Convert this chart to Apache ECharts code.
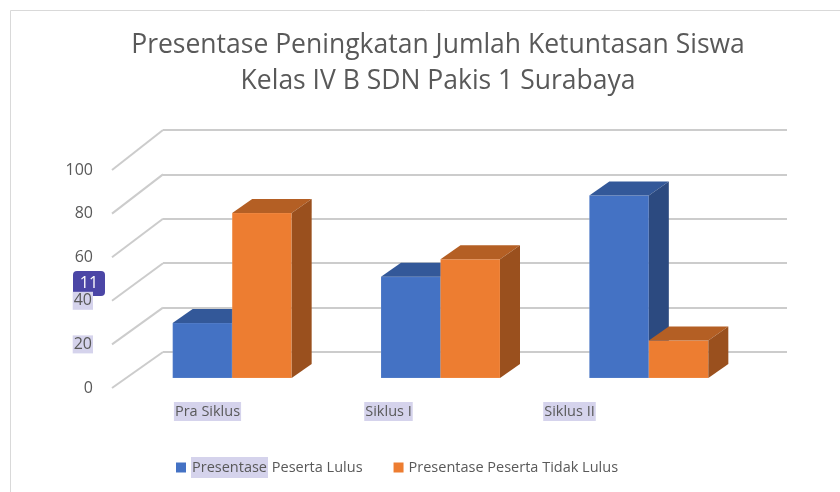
<!DOCTYPE html>
<html>
<head>
<meta charset="utf-8">
<script src="https://cdn.jsdelivr.net/npm/echarts@6/dist/echarts.min.js"></script>
<style>html,body{margin:0;padding:0;background:#fff}#c{width:840px;height:492px}</style>
</head>
<body>
<div id="c"></div>
<script>
const categories = ['Pra Siklus', 'Siklus I', 'Siklus II'];
const lulus = [25, 46, 83];
const tidakLulus = [75, 54, 17];
const yTicks = [0, 20, 40, 60, 80, 100];
const seriesNames = ['Presentase Peserta Lulus', 'Presentase Peserta Tidak Lulus'];

const FONT = 'Open Sans';
const TXT = '#595959';
const HL = '#d5d3ec';
const DX = 20, DY = 14, BAR_W = 59.5;

const faces = [
  { front: '#4472C4', top: '#335899', side: '#2c4a80' },
  { front: '#ED7D31', top: '#b45f24', side: '#9a501e' }
];

function barRender(sIdx) {
  return function (params, api) {
    const idx = api.value(0), v = api.value(1);
    const top = api.coord([idx, v]);
    const base = api.coord([idx, 0]);
    const x0 = sIdx === 0 ? top[0] - BAR_W : top[0];
    const x1 = x0 + BAR_W;
    const c = faces[sIdx];
    return {
      type: 'group',
      children: [
        { type: 'rect', shape: { x: x0, y: top[1], width: BAR_W, height: base[1] - top[1] },
          style: { fill: c.front, stroke: 'rgba(255,255,255,0.25)', lineWidth: 0.5 } },
        { type: 'polygon', shape: { points: [[x0, top[1]], [x0 + DX, top[1] - DY], [x1 + DX, top[1] - DY], [x1, top[1]]] },
          style: { fill: c.top } },
        { type: 'polygon', shape: { points: [[x1, top[1]], [x1 + DX, top[1] - DY], [x1 + DX, base[1] - DY], [x1, base[1]]] },
          style: { fill: c.side } }
      ]
    };
  };
}

const chart = echarts.init(document.getElementById('c'));
chart.setOption({
  backgroundColor: '#fff',
  animation: false,
  title: {
    text: 'Presentase Peningkatan Jumlah Ketuntasan Siswa\nKelas IV B SDN Pakis 1 Surabaya',
    left: 433, top: 22, textAlign: 'center',
    textStyle: { fontFamily: FONT, fontSize: 26.5, fontWeight: 'normal', color: TXT, lineHeight: 36 }
  },
  legend: {
    data: seriesNames,
    left: 171, top: 452,
    icon: 'rect', itemWidth: 10, itemHeight: 10, itemGap: 31,
    formatter: function (name) {
      return name === seriesNames[0] ? '{hl|Presentase} Peserta Lulus' : name;
    },
    textStyle: {
      fontFamily: FONT, fontSize: 14.5, color: TXT,
      rich: { hl: { fontFamily: FONT, fontSize: 14.5, color: TXT, backgroundColor: HL, padding: [3, 1] } }
    }
  },
  grid: [
    { left: 117, top: 170, width: 543, height: 218 },
    { left: 163, top: 130, width: 624, height: 222 },
    { left: 128, top: 158, width: 625, height: 220 }
  ],
  xAxis: [
    { gridIndex: 0, type: 'category', data: categories,
      axisLine: { show: false }, axisTick: { show: false },
      axisLabel: { margin: 14, fontFamily: FONT, fontSize: 14.5, color: TXT, backgroundColor: HL, padding: [2, 1] } },
    { gridIndex: 1, type: 'value', min: 0, max: 1, show: false },
    { gridIndex: 2, type: 'category', data: categories, show: false }
  ],
  yAxis: [
    { gridIndex: 0, type: 'value', min: 0, max: 100, interval: 20,
      axisLine: { show: false }, axisTick: { show: false }, splitLine: { show: false },
      axisLabel: { margin: 24, fontFamily: FONT, fontSize: 16, color: TXT,
        formatter: function (v) { return (v === 20 || v === 40) ? '{hl|' + v + '}' : String(v); },
        rich: { hl: { fontFamily: FONT, fontSize: 16, color: TXT, backgroundColor: HL, padding: [1, 1] } } } },
    { gridIndex: 1, type: 'value', min: 0, max: 100, interval: 20,
      axisLine: { show: false }, axisTick: { show: false }, axisLabel: { show: false },
      splitLine: { show: true, lineStyle: { color: '#cccccc', width: 2 } } },
    { gridIndex: 2, type: 'value', min: 0, max: 100, show: false }
  ],
  graphic: [
    { type: 'rect', shape: { x: 10.5, y: 10.5, width: 900, height: 600 }, style: { fill: 'none', stroke: '#d9d9d9', lineWidth: 1 }, silent: true, z: -10 },
    { type: 'group', left: 73, top: 271, z: 100, children: [
      { type: 'rect', shape: { x: 0, y: 0, width: 32, height: 25, r: 4 }, style: { fill: '#4b46a6' } },
      { type: 'text', x: 16, y: 12.5, style: { text: '11', fill: '#fff', font: '16px "Open Sans"', textAlign: 'center', textVerticalAlign: 'middle' } }
    ] }
  ],
  series: [
    { type: 'custom', name: 'diag', xAxisIndex: 1, yAxisIndex: 1, silent: true, z: 1,
      data: yTicks.map(v => [0, v]),
      renderItem: function (params, api) {
        const v = api.value(1);
        const p = api.coord([0, v]);
        return { type: 'line', shape: { x1: p[0], y1: p[1], x2: p[0] - 51, y2: p[1] + 36 + v * 0.04 },
          style: { stroke: '#cccccc', lineWidth: 2 } };
      } },
    { type: 'custom', name: seriesNames[0], xAxisIndex: 2, yAxisIndex: 2, z: 3,
      itemStyle: { color: faces[0].front },
      data: lulus.map((v, i) => [i, v]), encode: { x: 0, y: 1 }, renderItem: barRender(0) },
    { type: 'custom', name: seriesNames[1], xAxisIndex: 2, yAxisIndex: 2, z: 4,
      itemStyle: { color: faces[1].front },
      data: tidakLulus.map((v, i) => [i, v]), encode: { x: 0, y: 1 }, renderItem: barRender(1) }
  ]
});
</script>
</body>
</html>
